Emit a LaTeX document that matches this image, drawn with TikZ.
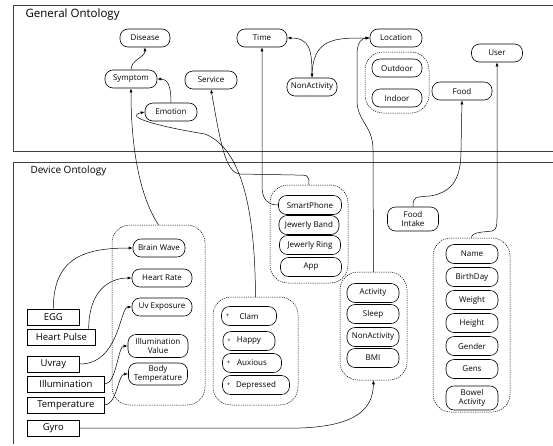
\documentclass[tikz,border=0pt]{standalone}
\usepackage{fontspec}
\setmainfont{Open Sans}
\usepackage{tikz}
\usetikzlibrary{arrows.meta,positioning,calc}
\tikzset{
  onto/.style={draw, line width=0.6pt, rounded corners=8pt, minimum width=50pt, minimum height=18pt, inner sep=1pt, font=\fontsize{8}{8.8}\selectfont, align=center},
  emo/.style={onto, path picture={\node[font=\fontsize{6}{6}\selectfont] at ([xshift=6pt]path picture bounding box.west) {+};}},
  grp/.style={draw, line width=0.5pt, dash pattern=on 1.2pt off 1pt, rounded corners=18pt},
  dev/.style={draw, line width=0.7pt, anchor=west, minimum height=16pt, inner xsep=0pt, font=\fontsize{9.5}{10}\selectfont},
  arr/.style={-{Latex[length=4pt,width=3pt]}, line width=0.5pt},
  arrb/.style={{Latex[length=4pt,width=3pt]}-{Latex[length=4pt,width=3pt]}, line width=0.5pt},
  frame/.style={line width=0.8pt, black!75},
}

\begin{document}
\begin{tikzpicture}[x=1pt,y=-1pt]
  \useasboundingbox (0,0) rectangle (553,445);
  % the two ontology frames
  \draw[frame] (553,5) -- (13,5) -- (13,151) -- (553,151);
  \draw[frame] (553,162) -- (13,162) -- (13,444);
  \node[anchor=west, font=\fontsize{11.5}{13}\selectfont] (gentitle) at (22,15) {General Ontology};
  \node[anchor=west, font=\fontsize{10}{12}\selectfont] (devtitle) at (27,171) {Device Ontology};

  % general ontology
  \node[onto] (dis) at (145,38) {Disease};
  \node[onto] (time) at (262,38) {Time};
  \node[onto, minimum width=52pt] (loc) at (396,38) {Location};
  \node[onto, minimum width=52pt] (sym) at (131,79) {Symptom};
  \node[onto, minimum width=52pt] (srv) at (211,80) {Service};
  \node[onto, minimum width=52pt] (emo) at (171,112) {Emotion};
  \node[onto] (nact) at (312,87) {NonActivity};
  \node[grp, minimum width=64pt, minimum height=61pt] (locgrp) at (397,82.5) {};
  \node[onto] (out) at (397,68) {Outdoor};
  \node[onto] (ind) at (397,98) {Indoor};
  \node[onto, minimum width=60pt] (food) at (462,91) {Food};
  \node[onto, minimum width=51pt] (user) at (497,53) {User};

  % device ontology: groups
  \node[grp, minimum width=93pt, minimum height=180pt] (g1) at (158.5,315) {};
  \node[grp, minimum width=78pt, minimum height=98pt] (g2) at (309,234) {};
  \node[grp, minimum width=85pt, minimum height=108pt] (g3) at (255.5,351) {};
  \node[grp, minimum width=67pt, minimum height=108pt] (g4) at (373.5,326) {};
  \node[grp, minimum width=77pt, minimum height=174pt] (g5) at (471.5,325) {};

  \node[onto, minimum width=52pt] (bw) at (159,248) {Brain Wave};
  \node[onto, minimum width=60pt] (hr) at (162,278) {Heart Rate};
  \node[onto, minimum width=60pt] (uve) at (162,307) {Uv Exposure};
  \node[onto, minimum width=60pt, minimum height=23pt] (ilv) at (158,346) {Illumination\\Value};
  \node[onto, minimum width=59pt, minimum height=22pt] (bt) at (158,374) {Body\\Temperature};

  \foreach \t/\x/\y/\w [count=\i] in {SmartPhone/310/205/63, Jewerly Band/309/225/60, Jewerly Ring/310/245/61, App/311/267/61}
    \node[onto, minimum width=\w pt, minimum height=19pt] (d\i) at (\x,\y) {\t};
  \foreach \t/\x/\y/\w [count=\i] in {Clam/249/316/55, Happy/249/341/52, Auxious/252/363/59, Depressed/256/385/67}
    \node[emo, minimum width=\w pt, minimum height=19pt] (e\i) at (\x,\y) {\t};
  \foreach \t/\y [count=\i] in {Activity/293, Sleep/314, NonActivity/337, BMI/358}
    \node[onto, minimum width=52pt, minimum height=19pt] (a\i) at (373,\y) {\t};
  \foreach \t/\y [count=\i] in {Name/254, BirthDay/277, Weight/300, Height/323, Gender/346, Gens/369}
    \node[onto, minimum width=52pt, minimum height=19pt] (u\i) at (472,\y) {\t};
  \node[onto, minimum width=52pt, minimum height=24pt] (u7) at (472,398) {Bowel\\Activity};
  \node[onto, minimum width=51pt, minimum height=24pt] (fi) at (413,219) {Food\\Intake};

  % sensors
  \node[dev, minimum width=52pt] (egg) at (27,317) {EGG};
  \node[dev, minimum width=68pt] (hp) at (27,337) {Heart Pulse};
  \node[dev, minimum width=52pt] (uvr) at (27,364) {Uvray};
  \node[dev, minimum width=77pt] (ill) at (27,384) {Illumination};
  \node[dev, minimum width=77pt] (tmp) at (27,405) {Temperature};
  \node[dev, minimum width=52pt] (gyro) at (27,428) {Gyro};

  % links inside general ontology
  \draw[arr] (sym.north) .. controls +(0,-10) and +(0,10) .. (dis.south);
  \draw[arr] (emo.north) .. controls +(0,-18) and +(10,0) .. (sym.east);
  \draw[arrb] (nact.north) .. controls +(0,-28) and +(22,0) .. (time.east);
  \draw[arr] (nact.north) .. controls +(0,-40) and +(-35,0) .. (loc.west);

  % links from device to general ontology
  \draw[arr] (g1.north) .. controls +(-12,-18) and +(0,80) .. (sym.south);
  \draw[arr] (g3.north) .. controls (255,220) and (245,150) .. (205,134)
    .. controls (150,125) and (125,116) .. (emo.west);
  \draw[arr] (g2.north) .. controls +(0,-10) and (308,175) .. (295,175) -- (240,174)
    .. controls (225,173) and (220,140) .. (srv.south);
  \draw[arr] (d1.west) .. controls +(-10,0) and (262,200) .. (262,186) -- (time.south);
  \draw[arr] (g4.north) -- (373,150) .. controls (373,125) and (357,122) .. (357,100)
    -- (357,55) .. controls (357,42) and (362,38) .. (loc.west);
  \draw[arr] (fi.north) .. controls +(0,-10) and (415,197) .. (430,196)
    .. controls (455,192) and (461,175) .. (461,150) -- (food.south);
  \draw[arr] (g5.north) .. controls +(0,-6) and (485,232) .. (492,231)
    .. controls (497,230) and (497,225) .. (497,215) -- (user.south);

  % sensor links
  \draw[arr] (egg.north) .. controls +(0,-50) and +(-50,0) .. (bw.west);
  \draw[arr] ([xshift=-7pt]hp.north east) .. controls +(0,-35) and +(-25,0) .. (hr.west);
  \draw[arr] (uvr.east) .. controls +(40,0) and +(-12,0) .. (uve.west);
  \draw[arr] (ill.east) .. controls +(12,0) and +(-10,0) .. (ilv.west);
  \draw[arr] (tmp.east) .. controls +(12,0) and +(-10,0) .. (bt.west);
  \draw[arr] (gyro.east) -- (300,428) .. controls (355,426) and (373,410) .. (g4.south);
\end{tikzpicture}
\end{document}
